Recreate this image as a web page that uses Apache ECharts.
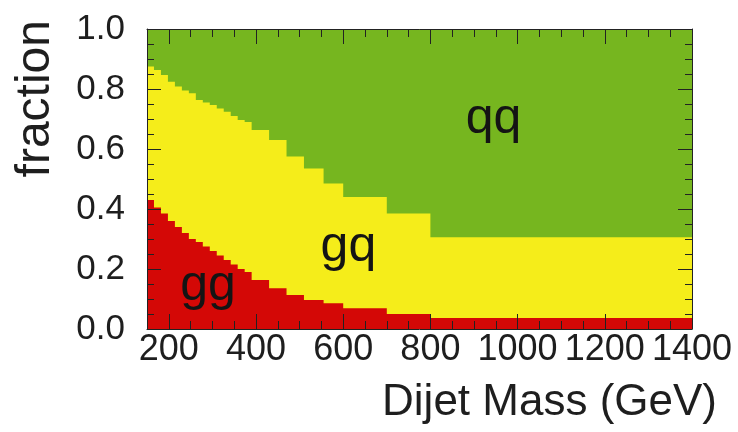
<!DOCTYPE html>
<html>
<head>
<meta charset="utf-8">
<script src="https://cdn.jsdelivr.net/npm/echarts@6/dist/echarts.min.js"></script>
<style>
html,body{margin:0;padding:0;background:#fff;}
#chart{width:738px;height:432px;}
</style>
</head>
<body>
<div id="chart"></div>
<script>
// Bin edges of the dijet mass histogram (GeV)
var binEdges = [150,166,182,198,214,230,246,262,278,294,310,326,342,358,374,390,430,470,510,555,600,700,800,1400];
// Fractions per bin
var ggFrac = [0.43,0.405,0.385,0.36,0.34,0.32,0.30,0.29,0.275,0.26,0.245,0.23,0.215,0.20,0.19,
              0.163,0.136,0.113,0.097,0.086,0.069,0.05,0.037];
var gqFrac = [0.445,0.458,0.462,0.464,0.468,0.475,0.486,0.473,0.48,0.487,0.49,0.494,0.495,0.497,0.50,
              0.50,0.494,0.462,0.438,0.399,0.371,0.335,0.269];
var qqFrac = [0.125,0.137,0.153,0.176,0.192,0.205,0.214,0.237,0.245,0.253,0.265,0.276,0.29,0.303,0.31,
              0.337,0.37,0.425,0.465,0.515,0.56,0.615,0.694];
var xTickLabels = ['200','400','600','800','1000','1200','1400'];
var yTickLabels = ['0.0','0.2','0.4','0.6','0.8','1.0'];
var regionLabels = [
  {name:'qq', coord:[945, 0.70]},
  {name:'gq', coord:[612, 0.273]},
  {name:'gg', coord:[290, 0.143]}
];

function stepData(vals){
  var out = [];
  for (var i = 0; i < binEdges.length; i++) {
    out.push([binEdges[i], vals[Math.min(i, vals.length - 1)]]);
  }
  return out;
}
var cumGG = ggFrac.slice();
var cumGQ = ggFrac.map(function(v,i){ return +(v + gqFrac[i]).toFixed(4); });
var cumQQ = ggFrac.map(function(v,i){ return +(v + gqFrac[i] + qqFrac[i]).toFixed(4); });

var FONT = 'Liberation Sans, Arial, sans-serif';
var TXT = '#1e1e1e';
var AX = '#222';

function xAx(pos, showLabel){
  return {
    type:'value', position:pos, min:150, max:1400, splitNumber:6, z:10,
    axisLine:{show:true, onZero:false, lineStyle:{color:AX, width:1}},
    axisTick:{show:true, inside:true, length:15, lineStyle:{color:AX, width:1}},
    minorTick:{show:true, splitNumber:4, length:8, lineStyle:{color:AX, width:1}},
    splitLine:{show:false},
    axisLabel:{show:showLabel, showMinLabel:false, fontSize:36, fontFamily:FONT, color:TXT, margin:3,
      formatter:function(v){ var s = String(Math.round(v)); return xTickLabels.indexOf(s) >= 0 ? s : ''; }}
  };
}
function yAx(pos, showLabel){
  return {
    type:'value', position:pos, min:0, max:1, interval:0.2, z:10,
    axisLine:{show:true, onZero:false, lineStyle:{color:AX, width:1}},
    axisTick:{show:true, inside:true, length:14, lineStyle:{color:AX, width:1}},
    minorTick:{show:true, splitNumber:4, length:7, lineStyle:{color:AX, width:1}},
    splitLine:{show:false},
    axisLabel:{show:showLabel, fontSize:35, fontFamily:FONT, color:TXT, margin:22,
      formatter:function(v){ var s = v.toFixed(1); return yTickLabels.indexOf(s) >= 0 ? s : ''; }}
  };
}
function area(name, vals, color, extra){
  var s = {
    name:name, type:'line', step:'end', data:stepData(vals), symbol:'none', silent:true,
    xAxisIndex:0, yAxisIndex:0,
    lineStyle:{width:0, color:color}, itemStyle:{color:color},
    areaStyle:{color:color, opacity:1}
  };
  if (extra) for (var k in extra) s[k] = extra[k];
  return s;
}

var chart = echarts.init(document.getElementById('chart'), null, {renderer:'canvas'});
chart.setOption({
  animation:false,
  backgroundColor:'#ffffff',
  grid:{left:147, right:46, top:29, bottom:103, containLabel:false},
  xAxis:[xAx('bottom', true), xAx('top', false)],
  yAxis:[yAx('left', true), yAx('right', false)],
  series:[
    area('qq', cumQQ, '#76b61f'),
    area('gq', cumGQ, '#f5ed1a'),
    area('gg', cumGG, '#d40806', {
      markPoint:{
        symbol:'circle', symbolSize:0, silent:true,
        label:{show:true, position:'inside', formatter:'{b}', fontSize:50, fontFamily:FONT, color:'#141414'},
        data:regionLabels.map(function(r){ return {name:r.name, coord:r.coord, value:r.name}; })
      }
    })
  ],
  graphic:[
    {type:'text', x:36, y:20, rotation:Math.PI/2, z:20,
     style:{text:'fraction', font:'48px Liberation Sans, Arial, sans-serif', fill:TXT, align:'right', verticalAlign:'middle'}},
    {type:'text', x:717, y:403, z:20,
     style:{text:'Dijet Mass (GeV)', font:'44px Liberation Sans, Arial, sans-serif', fill:TXT, align:'right', verticalAlign:'middle'}}
  ]
});
</script>
</body>
</html>
